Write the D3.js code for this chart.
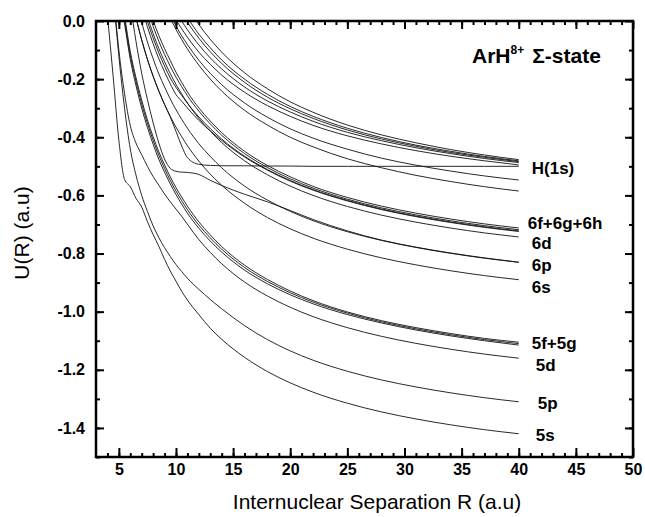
<!DOCTYPE html>
<html>
<head>
<meta charset="utf-8">
<script src="https://cdn.jsdelivr.net/npm/d3@7"></script>
<style>
	body { margin: 0; background: #fff; }
	svg { font-family: "Liberation Sans", Arial, sans-serif; }
</style>
</head>
<body>
<svg id="chart" width="645" height="517"></svg>
<script>

//DATA

//internuclear separation R (a.u), shared by all curves
var separations = [4, 4.5, 5, 5.5, 6, 6.5, 7, 7.5, 8, 8.5, 9, 9.5, 10, 10.5, 11, 12, 13, 14, 16, 18, 20, 22, 25, 28, 31, 34, 37, 40];

//U(R) in a.u. for each channel, null where the curve is above the plot
var u5s = [0.02, -0.19, -0.41, -0.545, -0.57, -0.61, -0.64, -0.69, -0.735, -0.775, -0.82, -0.86, -0.895, -0.93, -0.96, -1.01, -1.057, -1.095, -1.157, -1.206, -1.245, -1.277, -1.315, -1.345, -1.369, -1.389, -1.406, -1.42];
var u5p = [null, 0.1, -0.12, -0.3, -0.44, -0.53, -0.6, -0.655, -0.705, -0.745, -0.78, -0.81, -0.838, -0.862, -0.885, -0.923, -0.958, -0.99, -1.048, -1.096, -1.135, -1.167, -1.205, -1.235, -1.259, -1.279, -1.296, -1.31];
var u5d = [null, 0.1, -0.1, -0.25, -0.36, -0.42, -0.46, -0.5, -0.535, -0.565, -0.595, -0.622, -0.647, -0.672, -0.699, -0.752, -0.796, -0.835, -0.898, -0.946, -0.985, -1.017, -1.055, -1.085, -1.109, -1.129, -1.146, -1.16];
var u5fA = [null, null, 0.13, 0.016, -0.105, -0.195, -0.272, -0.34, -0.398, -0.45, -0.495, -0.536, -0.573, -0.606, -0.637, -0.691, -0.736, -0.776, -0.84, -0.889, -0.929, -0.962, -1.001, -1.031, -1.055, -1.075, -1.092, -1.105];
var u5fB = [null, null, 0.115, 0.003, -0.118, -0.208, -0.285, -0.352, -0.41, -0.462, -0.507, -0.548, -0.585, -0.618, -0.649, -0.702, -0.746, -0.785, -0.848, -0.896, -0.935, -0.967, -1.005, -1.035, -1.059, -1.079, -1.096, -1.11];
var u5fC = [null, null, 0.1, -0.01, -0.132, -0.222, -0.3, -0.366, -0.424, -0.476, -0.52, -0.56, -0.597, -0.63, -0.661, -0.713, -0.757, -0.795, -0.857, -0.904, -0.942, -0.973, -1.01, -1.039, -1.063, -1.083, -1.1, -1.115];
var uPlateau = [null, null, null, null, 0.06, -0.07, -0.18, -0.27, -0.35, -0.42, -0.475, -0.507, -0.517, -0.52, -0.521, -0.528, -0.548, -0.566, -0.596, -0.622, -0.652, -0.683, -0.722, -0.754, -0.778, -0.798, -0.815, -0.83];
var u6s = [null, null, null, null, 0.102, 0.012, -0.065, -0.132, -0.19, -0.241, -0.287, -0.328, -0.365, -0.398, -0.429, -0.482, -0.527, -0.565, -0.627, -0.676, -0.715, -0.747, -0.785, -0.815, -0.839, -0.859, -0.876, -0.89];
var uH1s = [null, null, null, null, 0.102, 0.012, -0.065, -0.132, -0.19, -0.241, -0.287, -0.33, -0.38, -0.43, -0.47, -0.493, -0.497, -0.498, -0.498, -0.499, -0.499, -0.5, -0.5, -0.5, -0.5, -0.5, -0.5, -0.5];
var u6p = [null, null, null, null, null, 0.072, -0.005, -0.072, -0.13, -0.182, -0.227, -0.268, -0.305, -0.338, -0.369, -0.422, -0.466, -0.505, -0.568, -0.616, -0.655, -0.687, -0.725, -0.755, -0.779, -0.799, -0.816, -0.83];
var u6d = [null, null, null, null, null, null, 0.082, 0.015, -0.043, -0.095, -0.14, -0.181, -0.218, -0.251, -0.282, -0.335, -0.379, -0.418, -0.481, -0.529, -0.568, -0.6, -0.638, -0.668, -0.692, -0.712, -0.729, -0.743];
var u6fA = [null, null, null, null, null, null, 0.127, 0.06, 0.002, -0.05, -0.095, -0.136, -0.176, -0.211, -0.244, -0.299, -0.344, -0.384, -0.448, -0.497, -0.536, -0.569, -0.607, -0.637, -0.661, -0.681, -0.698, -0.712];
var u6fB = [null, null, null, null, null, null, 0.107, 0.04, -0.018, -0.07, -0.115, -0.156, -0.193, -0.226, -0.257, -0.31, -0.354, -0.393, -0.456, -0.504, -0.543, -0.575, -0.613, -0.643, -0.667, -0.687, -0.704, -0.718];
var u6fC = [null, null, null, null, null, null, 0.067, -0.001, -0.058, -0.11, -0.155, -0.196, -0.228, -0.256, -0.283, -0.33, -0.37, -0.406, -0.465, -0.511, -0.549, -0.58, -0.617, -0.647, -0.671, -0.691, -0.708, -0.722];
var u6fD = [null, null, null, null, null, null, 0.047, -0.02, -0.078, -0.13, -0.175, -0.216, -0.253, -0.276, -0.299, -0.342, -0.378, -0.411, -0.468, -0.513, -0.551, -0.582, -0.619, -0.649, -0.673, -0.693, -0.71, -0.724];
var uUpperA = [null, null, null, null, null, null, null, null, null, null, 0.053, 0.01, -0.029, -0.064, -0.096, -0.152, -0.2, -0.241, -0.307, -0.358, -0.4, -0.433, -0.474, -0.505, -0.531, -0.552, -0.57, -0.585];
var uUpperB = [null, null, null, null, null, null, null, null, null, null, 0.062, 0.02, -0.017, -0.051, -0.081, -0.135, -0.18, -0.219, -0.282, -0.331, -0.371, -0.403, -0.441, -0.472, -0.496, -0.516, -0.533, -0.547];
var uTopA = [null, null, null, null, null, null, null, null, null, null, null, 0.039, 0.004, -0.027, -0.056, -0.107, -0.149, -0.186, -0.245, -0.291, -0.328, -0.359, -0.395, -0.423, -0.446, -0.465, -0.481, -0.495];
var uTopB = [null, null, null, null, null, null, null, null, null, null, null, null, 0.033, 0.0, -0.03, -0.082, -0.127, -0.165, -0.227, -0.275, -0.313, -0.345, -0.383, -0.412, -0.436, -0.456, -0.473, -0.487];
var uTopC = [null, null, null, null, null, null, null, null, null, null, null, null, null, 0.027, -0.004, -0.059, -0.106, -0.146, -0.211, -0.262, -0.302, -0.335, -0.375, -0.406, -0.431, -0.452, -0.469, -0.484];
var uTopD = [null, null, null, null, null, null, null, null, null, null, null, null, null, 0.045, 0.012, -0.045, -0.092, -0.134, -0.2, -0.252, -0.294, -0.328, -0.369, -0.401, -0.427, -0.448, -0.466, -0.481];
var uTopE = [null, null, null, null, null, null, null, null, null, null, null, null, null, null, 0.049, -0.012, -0.063, -0.107, -0.178, -0.233, -0.278, -0.314, -0.358, -0.392, -0.419, -0.442, -0.461, -0.477];

var curves = [u5s, u5p, u5d, u5fA, u5fB, u5fC, uPlateau, u6s, uH1s, u6p, u6d,
	u6fA, u6fB, u6fC, u6fD, uUpperA, uUpperB, uTopA, uTopB, uTopC, uTopD, uTopE];

//asymptote labels and the energy they sit at
var channelNames = ["H(1s)", "6f+6g+6h", "6d", "6p", "6s", "5f+5g", "5d", "5p", "5s"];
var channelLevels = [-0.506, -0.694, -0.765, -0.838, -0.915, -1.108, -1.183, -1.314, -1.424];

var xTicks = [5, 10, 15, 20, 25, 30, 35, 40, 45, 50];
var yTicks = [0, -0.2, -0.4, -0.6, -0.8, -1.0, -1.2, -1.4];
var yTickLabels = ["0.0", "-0.2", "-0.4", "-0.6", "-0.8", "-1.0", "-1.2", "-1.4"];

renderChart(document.getElementById("chart"));

function renderChart(element) {

	//LAYOUT

	var margin = {
		top: 21, bottom: 60,
		left: 96, right: 12
	};

	var width = 645 - margin.left - margin.right;
	var height = 517 - margin.top - margin.bottom;

	var svg = d3.select(element);

	var g = svg.append("g")
		.attr("transform", "translate(" + margin.left + "," + margin.top + ")");

	//scales
	var xScale = d3.scaleLinear()
		.domain([3, 50])
		.range([0, width]);

	var yScale = d3.scaleLinear()
		.domain([-1.5, 0])
		.range([height, 0]);

	svg.append("defs")
		.append("clipPath")
		.attr("id", "plotArea")
		.append("rect")
		.attr("width", width)
		.attr("height", height);

	//curves
	var line = d3.line()
		.defined((d, i) => d != null)
		.x((d, i) => xScale(separations[i]))
		.y((d, _) => yScale(d))
		.curve(d3.curveMonotoneX);

	g.append("g")
		.attr("clip-path", "url(#plotArea)")
		.selectAll("path")
		.data(curves)
		.enter()
		.append("path")
		.attr("d", line)
		.attr("fill", "none")
		.attr("stroke", "#111")
		.attr("stroke-width", 0.9);

	//x axis, ticks point into the plot
	g.append("g")
		.attr("class", "xAxis")
		.attr("transform", "translate(0," + height + ")")
		.call(d3.axisBottom(xScale)
			.tickValues(xTicks)
			.tickSizeInner(-9)
			.tickSizeOuter(0)
			.tickPadding(7)
			.tickFormat((d, i) => d));

	g.append("g")
		.attr("class", "minor")
		.attr("transform", "translate(0," + height + ")")
		.call(d3.axisBottom(xScale)
			.tickValues(d3.range(4, 50, 1))
			.tickSizeInner(-4)
			.tickSizeOuter(0)
			.tickFormat(""));

	g.append("g")
		.attr("class", "minor")
		.call(d3.axisTop(xScale)
			.tickValues(xTicks)
			.tickSizeInner(-8)
			.tickSizeOuter(0)
			.tickFormat(""));

	g.append("g")
		.attr("class", "minor")
		.call(d3.axisTop(xScale)
			.tickValues(d3.range(4, 50, 1))
			.tickSizeInner(-4)
			.tickSizeOuter(0)
			.tickFormat(""));

	//y axis
	g.append("g")
		.attr("class", "yAxis")
		.call(d3.axisLeft(yScale)
			.tickValues(yTicks)
			.tickSizeInner(-8)
			.tickSizeOuter(0)
			.tickPadding(11)
			.tickFormat((d, i) => yTickLabels[i]));

	g.append("g")
		.attr("class", "minor")
		.call(d3.axisLeft(yScale)
			.tickValues(d3.range(-1.5, 0, 0.1))
			.tickSizeInner(-4)
			.tickSizeOuter(0)
			.tickFormat(""));

	g.append("g")
		.attr("class", "minor")
		.attr("transform", "translate(" + width + ",0)")
		.call(d3.axisRight(yScale)
			.tickValues(yTicks)
			.tickSizeInner(-8)
			.tickSizeOuter(0)
			.tickFormat(""));

	g.append("g")
		.attr("class", "minor")
		.attr("transform", "translate(" + width + ",0)")
		.call(d3.axisRight(yScale)
			.tickValues(d3.range(-1.5, 0, 0.1))
			.tickSizeInner(-4)
			.tickSizeOuter(0)
			.tickFormat(""));

	g.selectAll(".domain").remove();

	g.selectAll(".tick line")
		.attr("stroke", "#000")
		.attr("stroke-width", 2);

	g.selectAll(".xAxis text, .yAxis text")
		.attr("fill", "#000")
		.style("font-size", "16px")
		.style("font-weight", "bold");

	//frame
	g.append("rect")
		.attr("width", width)
		.attr("height", height)
		.attr("fill", "none")
		.attr("stroke", "#000")
		.attr("stroke-width", 2.5);

	//channel labels at the right end of the curves
	var labelShift = [13, 9, 13, 13, 13, 13, 17, 19, 17];

	g.selectAll("text.channel")
		.data(channelNames)
		.enter()
		.append("text")
		.attr("class", "channel")
		.attr("x", (d, i) => xScale(40) + labelShift[i])
		.attr("y", (d, i) => yScale(channelLevels[i]))
		.attr("dy", "0.36em")
		.style("font-size", "17px")
		.style("font-weight", "bold")
		.text(d => d);

	//title inside the plot
	var title = g.append("text")
		.attr("x", 376)
		.attr("y", 42)
		.style("font-size", "21px")
		.style("font-weight", "bold");

	title.append("tspan").text("ArH");
	title.append("tspan")
		.attr("dy", -9)
		.style("font-size", "12px")
		.text("8+");
	title.append("tspan")
		.attr("dy", 9)
		.attr("dx", 8)
		.text("\u03A3-state");

	//axis titles
	svg.append("text")
		.attr("x", 377)
		.attr("y", 509)
		.attr("text-anchor", "middle")
		.style("font-size", "21px")
		.text("Internuclear Separation R (a.u)");

	svg.append("text")
		.attr("transform", "translate(29," + (margin.top + 212) + ") rotate(-90)")
		.attr("text-anchor", "middle")
		.style("font-size", "21px")
		.text("U(R) (a.u)");
}

</script>
</body>
</html>
